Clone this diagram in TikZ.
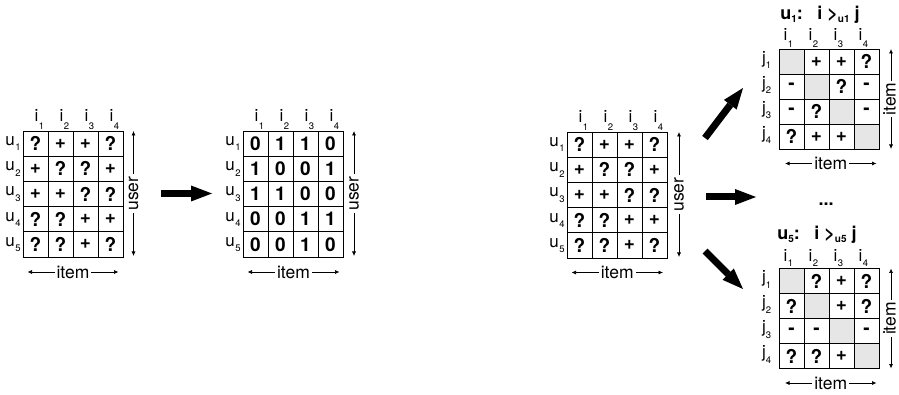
\documentclass[tikz,border=0pt]{standalone}
\usepackage{fontspec}
\setmainfont{TeX Gyre Heros}
\usetikzlibrary{arrows.meta}
\definecolor{cellgray}{HTML}{E6E6E6}
% #1 name, #2 x0, #3 y0, #4 cell height, #5 entries, #6 row letter,
% #7 row label dx, #8 row subscript dx, #9 column label dx
\newcommand\mygrid[9]{%
 \foreach \rowl [count=\r] in {#5} {%
   \foreach \v [count=\k] in \rowl {%
     \node[cell, minimum height=#4] (#1-\r-\k) at ({#2+25*(\k-0.5)},{#3+#4*(\r-0.5)}) {\v};
   }
   \node[lab] (#1-r\r) at ({#2+#7},{#3+#4*(\r-0.5)-2.5}) {#6};
   \node[sublab] (#1-rs\r) at ({#2+#8},{#3+#4*(\r-0.5)+4}) {\r};
 }
 \foreach \k in {1,...,4} {%
   \node[lab] (#1-c\k) at ({#2+25*(\k-0.5)+#9},{#3-\collift}) {i};
   \node[sublab] (#1-cs\k) at ({#2+25*(\k-0.5)+#9+5},{#3-5}) {\k};
 }
}
\newcommand\E{}
\newcommand\collift{15.5}
\newcommand\tsub[1]{\raisebox{-2.2pt}{\fontsize{10}{10}\selectfont #1}}
\begin{document}
\begin{tikzpicture}[x=1pt,y=-1pt,
  cell/.style={draw, line width=0.8pt, minimum width=25pt, inner sep=0pt,
    font=\fontsize{19}{19}\selectfont\bfseries},
  lab/.style={inner sep=0pt, font=\fontsize{17}{17}\selectfont},
  sublab/.style={inner sep=0pt, font=\fontsize{9.5}{9.5}\selectfont},
  axis/.style={line width=0.7pt, {Latex[length=4.5pt,width=4pt]}-{Latex[length=4.5pt,width=4pt]}},
  axislab/.style={fill=white, inner sep=2pt, font=\fontsize{17.5}{17.5}\selectfont},
  bigarrow/.style={line width=7pt, -{Triangle[length=21pt,width=16pt,line width=0pt]}},
  title/.style={inner sep=0pt, anchor=base, font=\fontsize{18}{18}\selectfont\bfseries}]
\useasboundingbox (0,0) rectangle (899,395);

% grid 1
\mygrid{A}{23}{131}{25.2}{{?,+,+,?},{+,?,?,+},{+,+,?,?},{?,?,+,+},{?,?,+,?}}{u}{-13}{-5}{1}
\coordinate (A-vt) at (133.5,131);
\coordinate (A-vb) at (133.5,256);
\draw[axis] (A-vt) -- (A-vb) node[midway, axislab, rotate=90] (A-user) {user};
\coordinate (A-hl) at (27.5,272);
\coordinate (A-hr) at (118.5,272);
\draw[axis] (A-hl) -- (A-hr) node[midway, axislab] (A-item) {item};

% grid 2
\mygrid{B}{243}{131}{25.2}{{0,1,1,0},{1,0,0,1},{1,1,0,0},{0,0,1,1},{0,0,1,0}}{u}{-13}{-5}{1}
\coordinate (B-vt) at (354,131);
\coordinate (B-vb) at (354,256);
\draw[axis] (B-vt) -- (B-vb) node[midway, axislab, rotate=90] (B-user) {user};
\coordinate (B-hl) at (247.5,272);
\coordinate (B-hr) at (339.5,272);
\draw[axis] (B-hl) -- (B-hr) node[midway, axislab] (B-item) {item};

% grid 3
\mygrid{C}{567}{132}{25.2}{{?,+,+,?},{+,?,?,+},{+,+,?,?},{?,?,+,+},{?,?,+,?}}{u}{-13}{-5}{1}
\coordinate (C-vt) at (679,132);
\coordinate (C-vb) at (679,257);
\draw[axis] (C-vt) -- (C-vb) node[midway, axislab, rotate=90] (C-user) {user};
\coordinate (C-hl) at (571.5,272.5);
\coordinate (C-hr) at (663,272.5);
\draw[axis] (C-hl) -- (C-hr) node[midway, axislab] (C-item) {item};

% grid 4
\foreach \d in {0,1,2,3} \fill[cellgray] ({779+25*\d},{49+25*\d}) rectangle ++(25,25);
\renewcommand\collift{15}
\mygrid{D}{779}{49}{25}{{\E,+,+,?},{-,\E,?,-},{-,?,\E,-},{?,+,+,\E}}{j}{-15}{-10.5}{-6}
\coordinate (D-vt) at (891,49);
\coordinate (D-vb) at (891,149);
\draw[axis] (D-vt) -- (D-vb) node[midway, axislab, rotate=90, yshift=1.5pt] (D-user) {item};
\coordinate (D-hl) at (785,163.5);
\coordinate (D-hr) at (876.5,163.5);
\draw[axis] (D-hl) -- (D-hr) node[midway, axislab] (D-item) {item};
\node[title] (D-title) at (820,20) {u\tsub{1}:\hspace{0.8em}i >\tsub{u1} j};

% grid 5
\foreach \d in {0,1,2,3} \fill[cellgray] ({779+25*\d},{268.5+25*\d}) rectangle ++(25,25);
\renewcommand\collift{13.5}
\mygrid{F}{779}{268.5}{25}{{\E,?,+,?},{?,\E,+,?},{-,-,\E,-},{?,?,+,\E}}{j}{-15}{-10.5}{-6}
\coordinate (F-vt) at (891,268.5);
\coordinate (F-vb) at (891,368.5);
\draw[axis] (F-vt) -- (F-vb) node[midway, axislab, rotate=90, yshift=1.5pt] (F-user) {item};
\coordinate (F-hl) at (785,383);
\coordinate (F-hr) at (876.5,383);
\draw[axis] (F-hl) -- (F-hr) node[midway, axislab] (F-item) {item};
\node[title] (F-title) at (817,240) {u\tsub{5}:\hspace{0.8em}i >\tsub{u5} j};

\node[title] (dots) at (826,206) {...};

% big arrows
\coordinate (a1s) at (161,193.5);
\coordinate (a1e) at (212,193.5);
\draw[bigarrow] (a1s) -- (a1e);
\coordinate (a2s) at (705,138);
\coordinate (a2e) at (743,88);
\draw[bigarrow] (a2s) -- (a2e);
\coordinate (a3s) at (706,197);
\coordinate (a3e) at (756,197);
\draw[bigarrow] (a3s) -- (a3e);
\coordinate (a4s) at (705,251);
\coordinate (a4e) at (743,289);
\draw[bigarrow] (a4s) -- (a4e);
\end{tikzpicture}
\end{document}
